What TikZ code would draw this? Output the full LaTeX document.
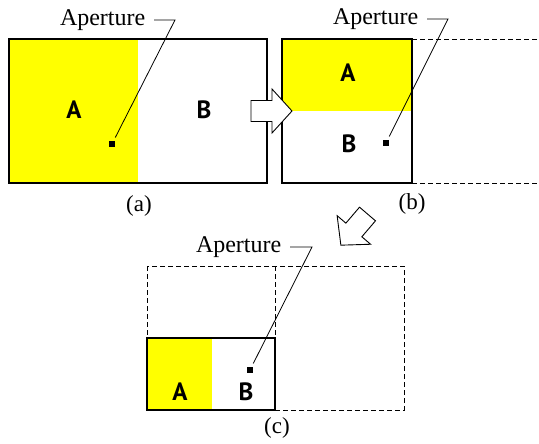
\documentclass[tikz,border=0pt]{standalone}
\usepackage{fontspec}
\setmainfont{Liberation Serif}
\newfontfamily\regionfont{PT Sans}
\usepackage{tikz}
\definecolor{RegionA}{RGB}{255,255,0}
\tikzset{
  panelframe/.style={line width=1.6pt},
  ghostframe/.style={line width=0.8pt,dash pattern=on 5pt off 3pt},
  aplabel/.style={font=\fontsize{24}{27}\selectfont,inner xsep=8.5pt,inner ysep=0pt,anchor=east},
  regionlbl/.style={font=\regionfont\bfseries\fontsize{25}{28}\selectfont,inner sep=0pt},
  captionlbl/.style={font=\fontsize{23}{26}\selectfont,inner sep=0pt},
  aphole/.style={fill=black,inner sep=0pt,minimum size=5.5pt},
  leaderline/.style={line width=0.8pt,shorten >=4pt},
  blockarrow/.pic={
    \draw[line width=0.9pt,fill=white,line join=miter]
      (0,-10.5) -- (21,-10.5) -- (21,-22) -- (41,0) -- (21,22) -- (21,10.5) -- (0,10.5) -- cycle;
  }
}

\begin{document}
\begin{tikzpicture}[x=1pt,y=-1pt]
  \useasboundingbox (0,0) rectangle (539,444);
  % (a)
  \fill[RegionA] (9,39) rectangle (138,183);
  \draw[panelframe] (9,39) rectangle (267,183);
  \node[regionlbl] (Aa) at (74,110) {A};
  \node[regionlbl] (Ba) at (204,110) {B};
  \node[aphole] (holeA) at (112,144) {};
  \node[aplabel] (labA) at (154,20) {Aperture};
  \coordinate (kneeA) at (175,20);
  \draw[leaderline] (labA.east) -- (kneeA) -- (holeA);
  \node[captionlbl] (capA) at (139,206) {(a)};
  % (b)
  \fill[RegionA] (282,39) rectangle (412,111);
  \draw[ghostframe] (412,39) -- (539,39) (412,183) -- (539,183);
  \draw[panelframe] (282,39) rectangle (412,183);
  \node[regionlbl] (Ab) at (348,73) {A};
  \node[regionlbl] (Bb) at (349,144) {B};
  \node[aphole] (holeB) at (386,143) {};
  \node[aplabel] (labB) at (427,19) {Aperture};
  \coordinate (kneeB) at (448,19);
  \draw[leaderline] (labB.east) -- (kneeB) -- (holeB);
  \node[captionlbl] (capB) at (412,204) {(b)};
  % (c)
  \draw[ghostframe] (147,266) rectangle (404,410) (275,266) -- (275,338);
  \fill[RegionA] (147,338) rectangle (212,410);
  \draw[panelframe] (147,338) rectangle (275,410);
  \node[regionlbl] (Ac) at (180,392) {A};
  \node[regionlbl] (Bc) at (246,392) {B};
  \node[aphole] (holeC) at (250,370) {};
  \node[aplabel] (labC) at (290,247) {Aperture};
  \coordinate (kneeC) at (312,247);
  \draw[leaderline] (labC.east) -- (kneeC) -- (holeC);
  \node[captionlbl] (capC) at (277,428) {(c)};
  % moves
  \pic at (251,111) {blockarrow};
  \pic[rotate=229.5] at (367.5,214) {blockarrow};
\end{tikzpicture}
\end{document}
